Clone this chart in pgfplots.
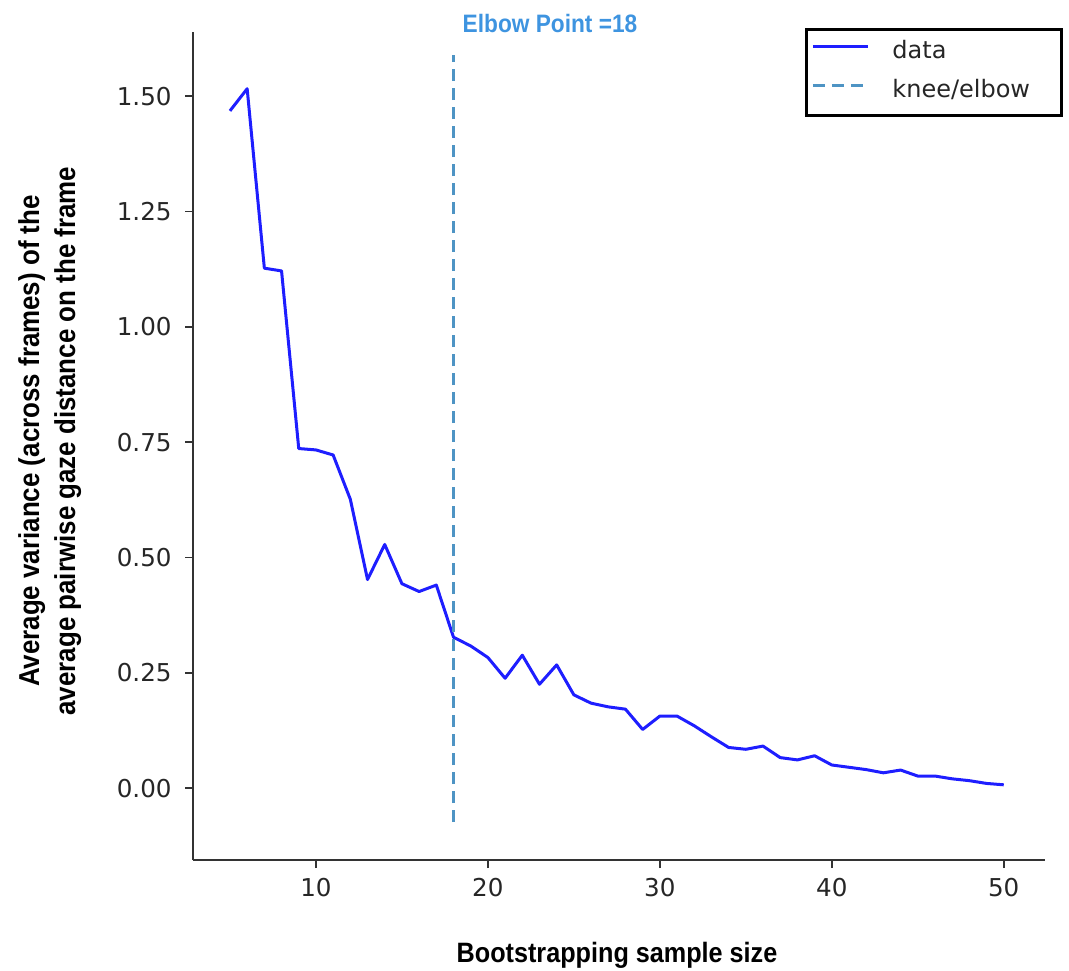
\documentclass[border=0pt]{standalone}
\usepackage{fontspec}
\setmainfont{DejaVu Sans}
\newfontfamily\cond[FakeStretch=0.9]{Liberation Sans}
\usepackage{pgfplots}
\pgfplotsset{compat=1.18}

\definecolor{databl}{RGB}{30,30,255}
\definecolor{kneebl}{RGB}{78,148,196}
\definecolor{titlebl}{RGB}{62,148,224}
\definecolor{txtgray}{RGB}{38,38,38}
\definecolor{spine}{RGB}{51,51,51}

\begin{document}
\begin{tikzpicture}
\begin{axis}[
    at={(0,0)}, anchor=south west,
    scale only axis,
    width=426pt, height=414pt,
    xmin=2.85, xmax=52.4,
    ymin=-0.156, ymax=1.639,
    axis lines*=left,
    axis line style={-, line width=1pt, color=spine},
    tick align=outside,
    major tick length=4pt,
    tick style={line width=0.9pt, color=spine},
    xtick={10,20,30,40,50},
    ytick={0,0.25,0.5,0.75,1,1.25,1.5},
    yticklabel style={/pgf/number format/fixed, /pgf/number format/fixed zerofill,
        /pgf/number format/precision=2, inner sep=3pt, xshift=-3.5pt},
    xticklabel style={yshift=-1.5pt},
    /pgf/number format/assume math mode=true,
    ticklabel style={font=\fontsize{12.3}{14}\selectfont, text=txtgray},
    title={Elbow Point =18},
    title style={at={(axis description cs:0.419,1.0)}, anchor=base, yshift=-6.5pt,
        font=\cond\bfseries\fontsize{12.6}{14}\selectfont, text=titlebl},
    xlabel={Bootstrapping sample size},
    xlabel style={at={(axis description cs:0.4977,0)}, anchor=base, yshift=-51pt,
        font=\cond\bfseries\fontsize{14}{18}\selectfont},
    ylabel={Average variance (across frames) of the\\average pairwise gaze distance on the frame},
    ylabel style={at={(axis description cs:-0.168,0.506)}, anchor=center, align=center,
        font=\cond\bfseries\fontsize{14.4}{18}\selectfont},
    legend cell align=left,
    legend style={at={(rel axis cs:1.021,1.0048)}, anchor=north east,
        draw=black, line width=1.5pt, inner xsep=2.5pt, inner ysep=5.5pt,
        column sep=11.5pt, row sep=7pt,
        font=\fontsize{12}{14}\selectfont, text=txtgray,
        nodes={inner xsep=0pt, inner ysep=1pt, text height=8pt, text depth=2.5pt}},
    legend image code/.code={\draw[#1] (0pt,3.5pt) -- (27.5pt,3.5pt);},
]
\addplot[databl, line width=1.5pt, line join=round] coordinates {
    (5,1.468) (6,1.516) (7,1.127) (8,1.121) (9,0.736) (10,0.733)
    (11,0.722) (12,0.626) (13,0.452) (14,0.528) (15,0.443) (16,0.426)
    (17,0.440) (18,0.327) (19,0.308) (20,0.283) (21,0.238) (22,0.288)
    (23,0.225) (24,0.267) (25,0.202) (26,0.184) (27,0.176) (28,0.171)
    (29,0.127) (30,0.156) (31,0.156) (32,0.135) (33,0.111) (34,0.088)
    (35,0.084) (36,0.091) (37,0.066) (38,0.061) (39,0.070) (40,0.050)
    (41,0.045) (42,0.040) (43,0.033) (44,0.039) (45,0.026) (46,0.026)
    (47,0.020) (48,0.016) (49,0.010) (50,0.007)
};
\addlegendentry{\makebox[82pt][l]{data}}
\addplot[kneebl, line width=1.5pt, dash pattern=on 6pt off 3.5pt] coordinates {
    (18,-0.074) (18,1.589)
};
\addlegendentry{\makebox[82pt][l]{knee/elbow}}
\end{axis}
\pgfresetboundingbox
\path (-96.5pt,-55pt) rectangle (438pt,430pt);
\end{tikzpicture}
\end{document}
